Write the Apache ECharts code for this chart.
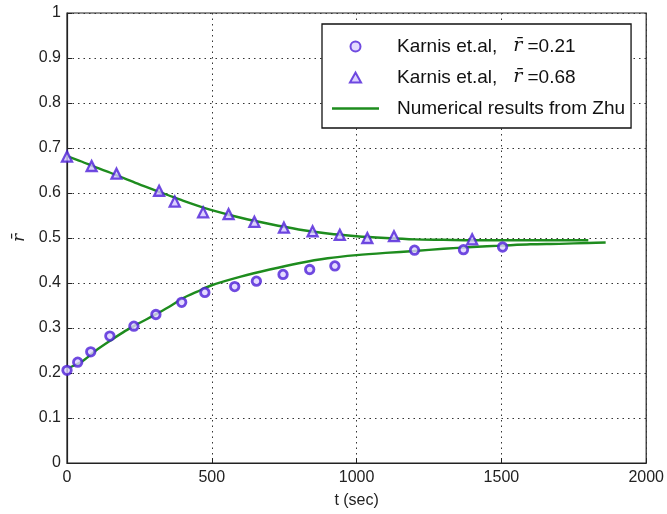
<!DOCTYPE html>
<html>
<head>
<meta charset="utf-8">
<script src="https://cdn.jsdelivr.net/npm/echarts@6/dist/echarts.min.js"></script>
<style>
  html, body { margin: 0; padding: 0; background: #fff; }
  #chart { width: 667px; height: 514px; }
</style>
</head>
<body>
<div id="chart"></div>
<script>
// Karnis et al. measurements, initial r̄ = 0.21 (t in seconds, r̄)
const karnisLowT = [0, 37, 82, 148, 231, 307, 396, 476, 579, 654, 746, 838, 925, 1200, 1369, 1504];
const karnisLowR = [0.206, 0.224, 0.247, 0.282, 0.304, 0.330, 0.357, 0.379, 0.392, 0.404, 0.419, 0.430, 0.438, 0.473, 0.474, 0.480];

// Karnis et al. measurements, initial r̄ = 0.68
const karnisHighT = [0, 85, 171, 318, 372, 470, 558, 647, 749, 848, 942, 1037, 1129, 1399];
const karnisHighR = [0.681, 0.660, 0.643, 0.605, 0.581, 0.557, 0.553, 0.536, 0.523, 0.515, 0.507, 0.500, 0.504, 0.497];

// Numerical results from Zhu, lower branch (starting at 0.21)
const zhuLowT = [0, 50, 100, 150, 200, 250, 300, 350, 400, 450, 500, 600, 700, 800, 900, 1000, 1100, 1200, 1300, 1400, 1500, 1600, 1700, 1800, 1860];
const zhuLowR = [0.210, 0.225, 0.250, 0.272, 0.293, 0.311, 0.328, 0.346, 0.366, 0.381, 0.395, 0.414, 0.430, 0.444, 0.455, 0.462, 0.467, 0.471, 0.476, 0.480, 0.483, 0.486, 0.487, 0.489, 0.490];

// Numerical results from Zhu, upper branch (starting at 0.68)
const zhuHighT = [0, 50, 100, 150, 200, 250, 300, 350, 400, 450, 500, 600, 700, 800, 900, 1000, 1100, 1200, 1300, 1400, 1500, 1600, 1700, 1800];
const zhuHighR = [0.682, 0.670, 0.657, 0.645, 0.632, 0.619, 0.607, 0.595, 0.583, 0.572, 0.562, 0.545, 0.531, 0.519, 0.510, 0.504, 0.500, 0.497, 0.496, 0.495, 0.495, 0.495, 0.495, 0.495];

const xTicks = [0, 500, 1000, 1500, 2000];
const yTicks = [0, 0.1, 0.2, 0.3, 0.4, 0.5, 0.6, 0.7, 0.8, 0.9, 1];

const legendLow = 'Karnis et.al,   {i|r\u0304} =0.21';
const legendHigh = 'Karnis et.al,   {i|r\u0304} =0.68';
const legendZhu = 'Numerical results from Zhu';

const zip = (a, b) => a.map((v, i) => [v, b[i]]);

const markerColor = '#4d1fd8';
const lineColor = '#1e8c1e';
const tickFont = "'Liberation Sans Narrow', 'Liberation Sans', Arial, sans-serif";

// legend glyphs: a small triangle and a plain line segment
const triangleIcon = 'path://M5,0 L10,9 L0,9 Z';
const lineIcon = 'path://M0,0 L47,0 L47,2.4 L0,2.4 Z';

const chart = echarts.init(document.getElementById('chart'), null, { renderer: 'canvas' });

chart.setOption({
  animation: false,
  backgroundColor: '#ffffff',
  grid: {
    left: 67, right: 20, top: 13, bottom: 48,
    show: true, borderColor: '#222', borderWidth: 1.2, backgroundColor: 'transparent'
  },
  xAxis: {
    type: 'value',
    min: xTicks[0], max: xTicks[xTicks.length - 1], interval: 500,
    name: 't (sec)',
    nameLocation: 'middle',
    nameGap: 30,
    nameTextStyle: { fontFamily: tickFont, fontSize: 16, color: '#222' },
    axisLine: { onZero: false, lineStyle: { color: '#222', width: 1.2 } },
    axisTick: { inside: true, length: 5, lineStyle: { color: '#222' } },
    axisLabel: { fontFamily: tickFont, fontSize: 16, color: '#222', margin: 7, formatter: v => String(v) },
    splitLine: { show: true, lineStyle: { color: '#333', width: 1, type: [1.5, 4] } }
  },
  yAxis: {
    type: 'value',
    min: 0, max: 1, interval: 0.1,
    name: 'r\u0304',
    nameLocation: 'middle',
    nameRotate: 90,
    nameGap: 37,
    nameTextStyle: { fontFamily: "'DejaVu Serif', serif", fontStyle: 'italic', fontSize: 17, color: '#222' },
    axisLine: { onZero: false, lineStyle: { color: '#222', width: 1.2 } },
    axisTick: { inside: true, length: 5, lineStyle: { color: '#222' } },
    axisLabel: {
      fontFamily: tickFont, fontSize: 16, color: '#222', margin: 6,
      formatter: v => String(Math.round(v * 10) / 10)
    },
    splitLine: { show: true, lineStyle: { color: '#333', width: 1, type: [1.5, 4] } }
  },
  legend: {
    orient: 'vertical',
    left: 322, top: 24,
    padding: [13, 6, 10, 10],
    itemGap: 12,
    itemWidth: 47,
    itemHeight: 10,
    symbolKeepAspect: true,
    backgroundColor: '#ffffff',
    borderColor: '#111',
    borderWidth: 1.3,
    borderRadius: 0,
    data: [
      { name: legendLow, icon: 'circle' },
      { name: legendHigh, icon: triangleIcon },
      { name: legendZhu, icon: lineIcon }
    ],
    formatter: name => '{t|' + name.replace('{i|r\u0304}', '}{i|r\u0304}{t|') + '}',
    textStyle: {
      color: '#111',
      rich: {
        t: { fontFamily: "'Liberation Sans', Arial, sans-serif", fontSize: 19, color: '#111' },
        i: { fontFamily: "'DejaVu Serif', serif", fontStyle: 'italic', fontSize: 19, color: '#111' }
      },
      padding: [0, 0, 0, 13]
    }
  },
  series: [
    {
      name: legendLow,
      type: 'scatter',
      symbol: 'circle',
      symbolSize: 8.5,
      itemStyle: { color: '#ddd2ff', borderColor: markerColor, borderWidth: 2.8 },
      data: zip(karnisLowT, karnisLowR),
      z: 4
    },
    {
      name: legendHigh,
      type: 'scatter',
      symbol: 'triangle',
      symbolSize: 10,
      itemStyle: { color: '#d3c6ff', borderColor: markerColor, borderWidth: 2.3 },
      data: zip(karnisHighT, karnisHighR),
      z: 4
    },
    {
      name: legendZhu,
      type: 'line',
      showSymbol: false,
      symbol: 'none',
      smooth: 0.3,
      lineStyle: { color: lineColor, width: 2.4 },
      itemStyle: { color: lineColor },
      data: zip(zhuHighT, zhuHighR),
      z: 3
    },
    {
      name: legendZhu,
      type: 'line',
      showSymbol: false,
      symbol: 'none',
      smooth: 0.3,
      lineStyle: { color: lineColor, width: 2.4 },
      itemStyle: { color: lineColor },
      data: zip(zhuLowT, zhuLowR),
      z: 3
    }
  ]
});
</script>
</body>
</html>
